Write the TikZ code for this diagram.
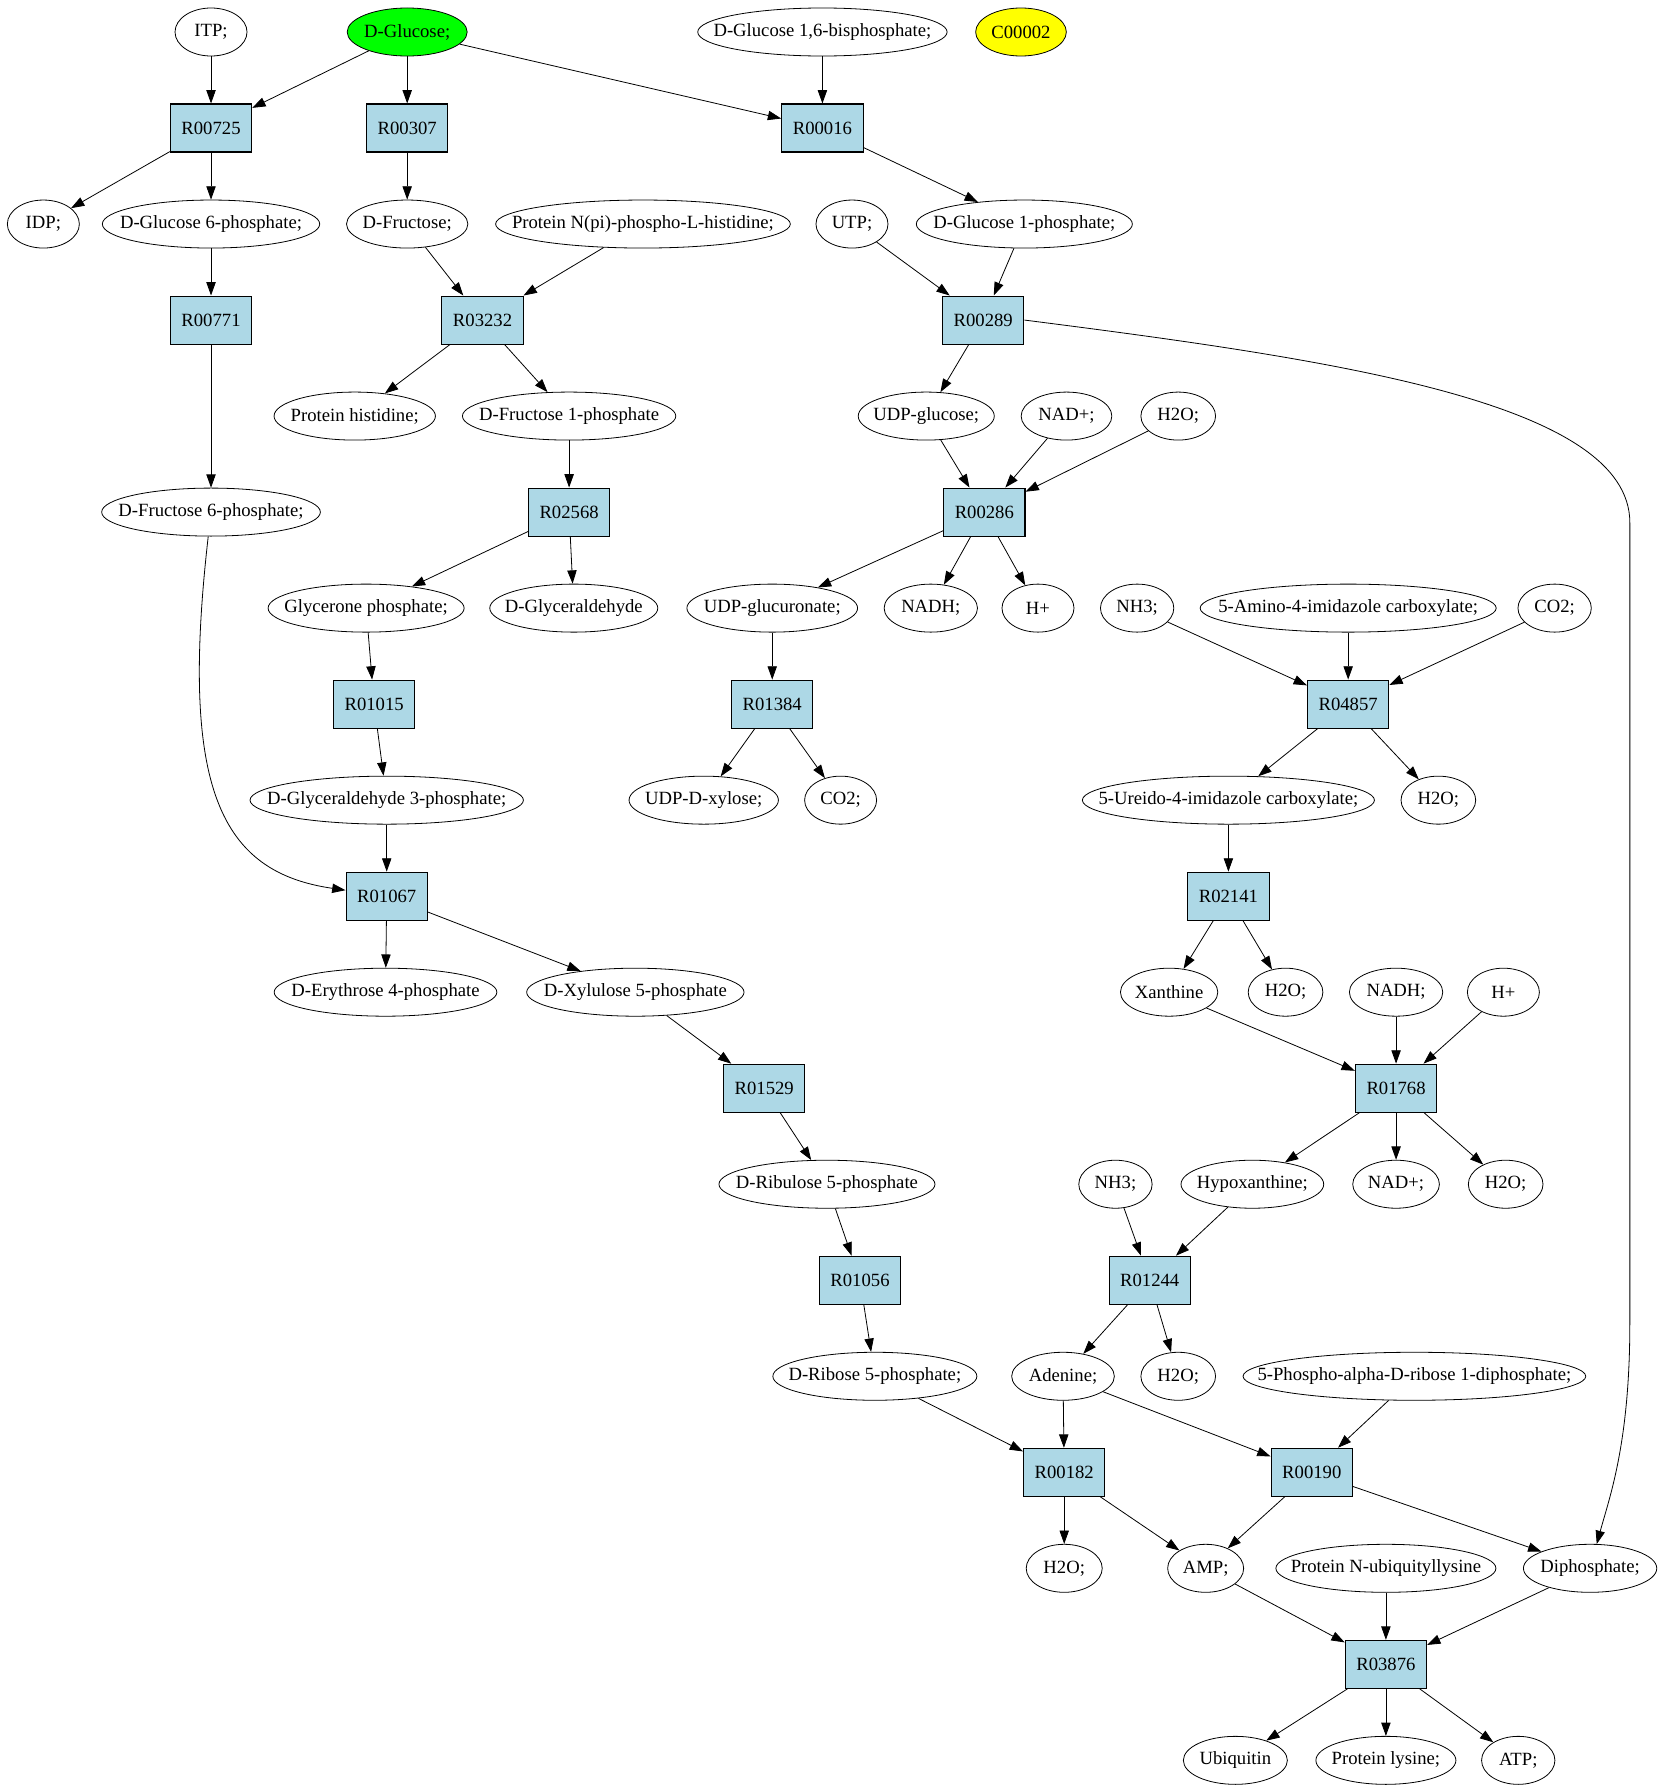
\documentclass[tikz,border=0pt]{standalone}
\usepackage{fontspec}
\setmainfont{Liberation Serif}
\usetikzlibrary{shapes.geometric,arrows.meta}
\definecolor{rxnblue}{HTML}{ADD8E6}
\definecolor{srcgreen}{HTML}{00FF00}
\definecolor{soloyellow}{HTML}{FFFF00}
\newcommand{\cname}[1]{\makebox[0pt]{#1}}

\begin{document}
\begin{tikzpicture}[x=1.0034pt,y=1pt,
    font=\fontsize{14}{16}\selectfont,
    cpd/.style={ellipse,draw,line width=0.6pt,inner sep=0pt,minimum height=36pt},
    rxn/.style={rectangle,draw,line width=0.8pt,fill=rxnblue,inner sep=0pt,minimum width=61pt,minimum height=36pt},
    arr/.style={line width=0.6pt,-{Stealth[inset=0pt,length=10pt,width=7pt]}}]
    \useasboundingbox (0,2) rectangle (1242.8,-1338);
    % compounds and reactions, rank by rank
    \node[cpd,minimum width=54pt] (itp) at (157.7,-22) {\cname{ITP;}};
    \node[cpd,minimum width=90pt,fill=srcgreen] (glc) at (304.3,-22) {\cname{D-Glucose;}};
    \node[cpd,minimum width=187pt] (glc16bp) at (614.6,-22) {\cname{D-Glucose 1,6-bisphosphate;}};
    \node[cpd,minimum width=68pt,fill=soloyellow] (c00002) at (763,-22) {\cname{C00002}};
    \node[rxn] (r00725) at (157.7,-94) {R00725};
    \node[rxn] (r00307) at (304.3,-94) {R00307};
    \node[rxn] (r00016) at (614.6,-94) {R00016};
    \node[cpd,minimum width=54pt] (idp) at (32.4,-166) {\cname{IDP;}};
    \node[cpd,minimum width=163pt] (g6p) at (157.7,-166) {\cname{D-Glucose 6-phosphate;}};
    \node[cpd,minimum width=91pt] (fru) at (304.3,-166) {\cname{D-Fructose;}};
    \node[cpd,minimum width=221pt] (nphis) at (480.5,-166) {\cname{Protein N(pi)-phospho-L-histidine;}};
    \node[cpd,minimum width=54pt] (utp) at (636.7,-166) {\cname{UTP;}};
    \node[cpd,minimum width=162pt] (g1p) at (765.5,-166) {\cname{D-Glucose 1-phosphate;}};
    \node[rxn] (r00771) at (157.7,-238) {R00771};
    \node[rxn] (r03232) at (360.6,-238) {R03232};
    \node[rxn] (r00289) at (734.8,-238) {R00289};
    \node[cpd,minimum width=121pt] (phis) at (265.1,-310) {\cname{Protein histidine;}};
    \node[cpd,minimum width=160pt] (f1p) at (425.3,-310) {\cname{D-Fructose 1-phosphate}};
    \node[cpd,minimum width=102pt] (udpglc) at (692.2,-310) {\cname{UDP-glucose;}};
    \node[cpd,minimum width=68pt] (nadA) at (797,-310) {\cname{NAD+;}};
    \node[cpd,minimum width=56pt] (h2oA) at (880.5,-310) {\cname{H2O;}};
    \node[cpd,minimum width=164pt] (f6p) at (157.7,-382) {\cname{D-Fructose 6-phosphate;}};
    \node[rxn] (r02568) at (425.3,-382) {R02568};
    \node[rxn] (r00286) at (735.6,-382) {R00286};
    \node[cpd,minimum width=147pt] (gnp) at (273.6,-454) {\cname{Glycerone phosphate;}};
    \node[cpd,minimum width=126pt] (gald) at (428.8,-454) {\cname{D-Glyceraldehyde}};
    \node[cpd,minimum width=128pt] (udpgla) at (577.1,-454) {\cname{UDP-glucuronate;}};
    \node[cpd,minimum width=70pt] (nadhA) at (695.6,-454) {\cname{NADH;}};
    \node[cpd,minimum width=54pt] (hA) at (775.7,-454) {\cname{H+}};
    \node[cpd,minimum width=55pt] (nh3A) at (849.8,-454) {\cname{NH3;}};
    \node[cpd,minimum width=222pt] (aicar) at (1007.5,-454) {\cname{5-Amino-4-imidazole carboxylate;}};
    \node[cpd,minimum width=55pt] (co2A) at (1161.8,-454) {\cname{CO2;}};
    \node[rxn] (r01015) at (279.6,-526) {R01015};
    \node[rxn] (r01384) at (577.1,-526) {R01384};
    \node[rxn] (r04857) at (1007.5,-526) {R04857};
    \node[cpd,minimum width=205pt] (gap) at (289,-598) {\cname{D-Glyceraldehyde 3-phosphate;}};
    \node[cpd,minimum width=112pt] (udpxyl) at (525.9,-598) {\cname{UDP-D-xylose;}};
    \node[cpd,minimum width=54pt] (co2B) at (628.2,-598) {\cname{CO2;}};
    \node[cpd,minimum width=219pt] (uaic) at (918,-598) {\cname{5-Ureido-4-imidazole carboxylate;}};
    \node[cpd,minimum width=56pt] (h2oB) at (1074.9,-598) {\cname{H2O;}};
    \node[rxn] (r01067) at (289,-670) {R01067};
    \node[rxn] (r02141) at (918,-670) {R02141};
    \node[cpd,minimum width=167pt] (e4p) at (288.1,-742) {\cname{D-Erythrose 4-phosphate}};
    \node[cpd,minimum width=163pt] (xu5p) at (474.8,-742) {\cname{D-Xylulose 5-phosphate}};
    \node[cpd,minimum width=73pt] (xan) at (873.7,-742) {\cname{Xanthine}};
    \node[cpd,minimum width=56pt] (h2oC) at (960.7,-742) {\cname{H2O;}};
    \node[cpd,minimum width=70pt] (nadhB) at (1043.3,-742) {\cname{NADH;}};
    \node[cpd,minimum width=54pt] (hB) at (1123.5,-742) {\cname{H+}};
    \node[rxn] (r01529) at (571.1,-814) {R01529};
    \node[rxn] (r01768) at (1043.3,-814) {R01768};
    \node[cpd,minimum width=162pt] (ru5p) at (618,-886) {\cname{D-Ribulose 5-phosphate}};
    \node[cpd,minimum width=55pt] (nh3B) at (833.6,-886) {\cname{NH3;}};
    \node[cpd,minimum width=107pt] (hyp) at (935.9,-886) {\cname{Hypoxanthine;}};
    \node[cpd,minimum width=65pt] (nadB) at (1043.3,-886) {\cname{NAD+;}};
    \node[cpd,minimum width=56pt] (h2oD) at (1125.2,-886) {\cname{H2O;}};
    \node[rxn] (r01056) at (642.7,-958) {R01056};
    \node[rxn] (r01244) at (859.2,-958) {R01244};
    \node[cpd,minimum width=153pt] (r5p) at (653.8,-1030) {\cname{D-Ribose 5-phosphate;}};
    \node[cpd,minimum width=77pt] (ade) at (794.4,-1030) {\cname{Adenine;}};
    \node[cpd,minimum width=56pt] (h2oE) at (880.5,-1030) {\cname{H2O;}};
    \node[cpd,minimum width=257pt] (prpp) at (1057,-1030) {\cname{5-Phospho-alpha-D-ribose 1-diphosphate;}};
    \node[rxn] (r00182) at (795.3,-1102) {R00182};
    \node[rxn] (r00190) at (980.3,-1102) {R00190};
    \node[cpd,minimum width=57pt] (h2oF) at (795.3,-1174) {\cname{H2O;}};
    \node[cpd,minimum width=57pt] (amp) at (901,-1174) {\cname{AMP;}};
    \node[cpd,minimum width=165pt] (ubqlys) at (1035.7,-1174) {\cname{Protein N-ubiquityllysine}};
    \node[cpd,minimum width=100pt] (ppi) at (1188.3,-1174) {\cname{Diphosphate;}};
    \node[rxn] (r03876) at (1035.7,-1246) {R03876};
    \node[cpd,minimum width=78pt] (ubq) at (923.2,-1318) {\cname{Ubiquitin}};
    \node[cpd,minimum width=105pt] (lys) at (1035.7,-1318) {\cname{Protein lysine;}};
    \node[cpd,minimum width=55pt] (atp) at (1134.6,-1318) {\cname{ATP;}};
    % bend points of the long edge on the right
    \coordinate (ppiTop) at (1218,-390);
    \coordinate (ppiLow) at (1218,-990);
    % edges
    \draw[arr] (itp) -- (r00725);
    \draw[arr] (glc) -- (r00725);
    \draw[arr] (glc) -- (r00307);
    \draw[arr] (glc) -- (r00016);
    \draw[arr] (glc16bp) -- (r00016);
    \draw[arr] (r00725) -- (idp);
    \draw[arr] (r00725) -- (g6p);
    \draw[arr] (r00307) -- (fru);
    \draw[arr] (r00016) -- (g1p);
    \draw[arr] (g6p) -- (r00771);
    \draw[arr] (fru) -- (r03232);
    \draw[arr] (nphis) -- (r03232);
    \draw[arr] (utp) -- (r00289);
    \draw[arr] (g1p) -- (r00289);
    \draw[arr] (r00771) -- (f6p);
    \draw[arr] (r03232) -- (phis);
    \draw[arr] (r03232) -- (f1p);
    \draw[arr] (r00289) -- (udpglc);
    \draw[arr] (r00289.east) .. controls (1000,-268) and (1218,-300) .. (ppiTop)
        -- (ppiLow) .. controls (1218,-1080) and (1203,-1120) .. (ppi);
    \draw[arr] (udpglc) -- (r00286);
    \draw[arr] (nadA) -- (r00286);
    \draw[arr] (h2oA) -- (r00286);
    \draw[arr] (f1p) -- (r02568);
    \draw[arr] (f6p) .. controls (134,-590) and (165,-652) .. (r01067);
    \draw[arr] (r02568) -- (gnp);
    \draw[arr] (r02568) -- (gald);
    \draw[arr] (r00286) -- (udpgla);
    \draw[arr] (r00286) -- (nadhA);
    \draw[arr] (r00286) -- (hA);
    \draw[arr] (nh3A) -- (r04857);
    \draw[arr] (aicar) -- (r04857);
    \draw[arr] (co2A) -- (r04857);
    \draw[arr] (gnp) -- (r01015);
    \draw[arr] (udpgla) -- (r01384);
    \draw[arr] (r01015) -- (gap);
    \draw[arr] (r01384) -- (udpxyl);
    \draw[arr] (r01384) -- (co2B);
    \draw[arr] (r04857) -- (uaic);
    \draw[arr] (r04857) -- (h2oB);
    \draw[arr] (gap) -- (r01067);
    \draw[arr] (uaic) -- (r02141);
    \draw[arr] (r01067) -- (e4p);
    \draw[arr] (r01067) -- (xu5p);
    \draw[arr] (r02141) -- (xan);
    \draw[arr] (r02141) -- (h2oC);
    \draw[arr] (xu5p) -- (r01529);
    \draw[arr] (xan) -- (r01768);
    \draw[arr] (nadhB) -- (r01768);
    \draw[arr] (hB) -- (r01768);
    \draw[arr] (r01529) -- (ru5p);
    \draw[arr] (r01768) -- (hyp);
    \draw[arr] (r01768) -- (nadB);
    \draw[arr] (r01768) -- (h2oD);
    \draw[arr] (ru5p) -- (r01056);
    \draw[arr] (nh3B) -- (r01244);
    \draw[arr] (hyp) -- (r01244);
    \draw[arr] (r01056) -- (r5p);
    \draw[arr] (r01244) -- (ade);
    \draw[arr] (r01244) -- (h2oE);
    \draw[arr] (r5p) -- (r00182);
    \draw[arr] (ade) -- (r00182);
    \draw[arr] (ade) -- (r00190);
    \draw[arr] (prpp) -- (r00190);
    \draw[arr] (r00182) -- (h2oF);
    \draw[arr] (r00182) -- (amp);
    \draw[arr] (r00190) -- (amp);
    \draw[arr] (r00190) -- (ppi);
    \draw[arr] (amp) -- (r03876);
    \draw[arr] (ubqlys) -- (r03876);
    \draw[arr] (ppi) -- (r03876);
    \draw[arr] (r03876) -- (ubq);
    \draw[arr] (r03876) -- (lys);
    \draw[arr] (r03876) -- (atp);
\end{tikzpicture}
\end{document}
